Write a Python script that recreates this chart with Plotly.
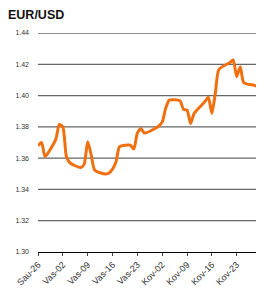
import plotly.graph_objects as go

dates = ["2011-01-26", "2011-01-27", "2011-01-28", "2011-01-31", "2011-02-01", "2011-02-02",
         "2011-02-03", "2011-02-04", "2011-02-07", "2011-02-08", "2011-02-09", "2011-02-10",
         "2011-02-11", "2011-02-14", "2011-02-15", "2011-02-16", "2011-02-17", "2011-02-18",
         "2011-02-21", "2011-02-22", "2011-02-23", "2011-02-24", "2011-02-25", "2011-02-28",
         "2011-03-01", "2011-03-02", "2011-03-03", "2011-03-04", "2011-03-07", "2011-03-08",
         "2011-03-09", "2011-03-10", "2011-03-11", "2011-03-14", "2011-03-15", "2011-03-16",
         "2011-03-17", "2011-03-18", "2011-03-21", "2011-03-22", "2011-03-23", "2011-03-24",
         "2011-03-25", "2011-03-28", "2011-03-29"]
eurusd = [1.368, 1.370, 1.361, 1.372, 1.3815, 1.380,
          1.361, 1.357, 1.354, 1.356, 1.3705, 1.362,
          1.3523, 1.3498, 1.3505, 1.353, 1.3577, 1.3673,
          1.3683, 1.3658, 1.376, 1.379, 1.376, 1.379,
          1.3805, 1.383, 1.392, 1.3971, 1.3967, 1.3912,
          1.3907, 1.3822, 1.3886, 1.396, 1.3989, 1.3886,
          1.402, 1.4168, 1.421, 1.4228, 1.4121, 1.4185,
          1.4082, 1.4065, 1.4055]

tick_dates = ["2011-01-26", "2011-02-02", "2011-02-09", "2011-02-16", "2011-02-23",
              "2011-03-02", "2011-03-09", "2011-03-16", "2011-03-23"]
tick_labels = ["Sau-26", "Vas-02", "Vas-09", "Vas-16", "Vas-23",
               "Kov-02", "Kov-09", "Kov-16", "Kov-23"]
y_ticks = [1.30, 1.32, 1.34, 1.36, 1.38, 1.40, 1.42, 1.44]

fig = go.Figure()
fig.add_trace(go.Scatter(x=dates, y=eurusd, mode="lines",
                         line=dict(color="#F07010", width=3, shape="spline", smoothing=0.6),
                         hoverinfo="x+y", showlegend=False))

# horizontal gridlines at each y tick value (drawn under the trace)
for v in y_ticks[1:]:
    fig.add_hline(y=v, line=dict(color="#666666", width=1.3), layer="below")

# the page body has an 8px default margin: margins compensate so the plot
# lands where the reference has it inside the 264x298 window
fig.update_layout(
    width=264, height=298,
    margin=dict(l=30, r=14, t=25, b=54, autoexpand=False),
    paper_bgcolor="white", plot_bgcolor="white",
    font=dict(family="Liberation Sans, Arial, sans-serif", color="#333333"),
    title=dict(text="<b>EUR/USD</b>", x=0.0, xanchor="left", xref="container",
               y=0.978, yanchor="middle", yref="container",
               font=dict(size=12.5, color="#111111")),
    xaxis=dict(type="date", range=["2011-01-26", "2011-03-29"],
               tickvals=tick_dates, ticktext=tick_labels, tickangle=-45,
               tickfont=dict(size=9, color="#333333"),
               showgrid=False, zeroline=False,
               showline=True, linecolor="#000000", linewidth=1,
               ticks="outside", ticklen=3, tickcolor="#444444"),
    yaxis=dict(range=[1.30, 1.44], tickvals=y_ticks,
               tickformat=".2f", tickfont=dict(size=7, color="#333333"),
               showgrid=False, zeroline=False, showline=False, ticks="",
               ticklabelstandoff=8),
)

fig.write_html("out.html")
